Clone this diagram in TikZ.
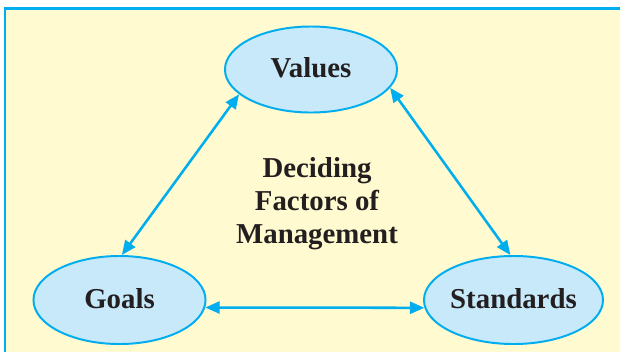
\documentclass[tikz,border=0pt]{standalone}
\usepackage{fontspec}
\setmainfont{Liberation Serif}
\usetikzlibrary{arrows.meta,shapes.geometric}
\definecolor{framecyan}{RGB}{0,174,239}
\definecolor{paleyellow}{RGB}{255,250,207}
\definecolor{paleblue}{RGB}{199,233,250}
\definecolor{inkblack}{RGB}{35,31,32}
\tikzset{
	factor/.style={ellipse, draw=framecyan, line width=1.4pt, fill=paleblue, inner sep=0pt, minimum width=4.3cm, minimum height=2.15cm, text depth=0.25em, text=inkblack, font=\fontsize{20.5}{24}\selectfont\bfseries},
	link/.style={draw=framecyan, line width=1.8pt, {Triangle[length=0.36cm,width=0.3cm]}-{Triangle[length=0.36cm,width=0.3cm]}}
}

\begin{document}
\begin{tikzpicture}[x=0.025cm, y=-0.025cm]
		%%%%% START %%%%%
		
		\useasboundingbox (0, 0) rectangle (620, 351);
		\draw[line width=1.9pt, draw=framecyan, fill=paleyellow] (5, 8.5) rectangle (650, 380);
		
		\node[factor] (values) at (311, 69.5) {Values};
		\node[factor, minimum height=2.2cm] (goals) at (119.5, 300) {Goals};
		\node[factor, minimum height=2.2cm] (standards) at (513.5, 300) {Standards};
		
		\node[align=center, text=inkblack, font=\fontsize{20.5}{23.5}\selectfont\bfseries] (deciding) at (317, 204) {Deciding\\Factors of\\Management};
		
		\draw[link] (values.199) -- (goals.87);
		\draw[link] (values.347) -- (standards.94);
		\draw[link] (goals.-5) -- (standards.185);
		
		%%%%% END %%%%%
	\end{tikzpicture}
\end{document}
